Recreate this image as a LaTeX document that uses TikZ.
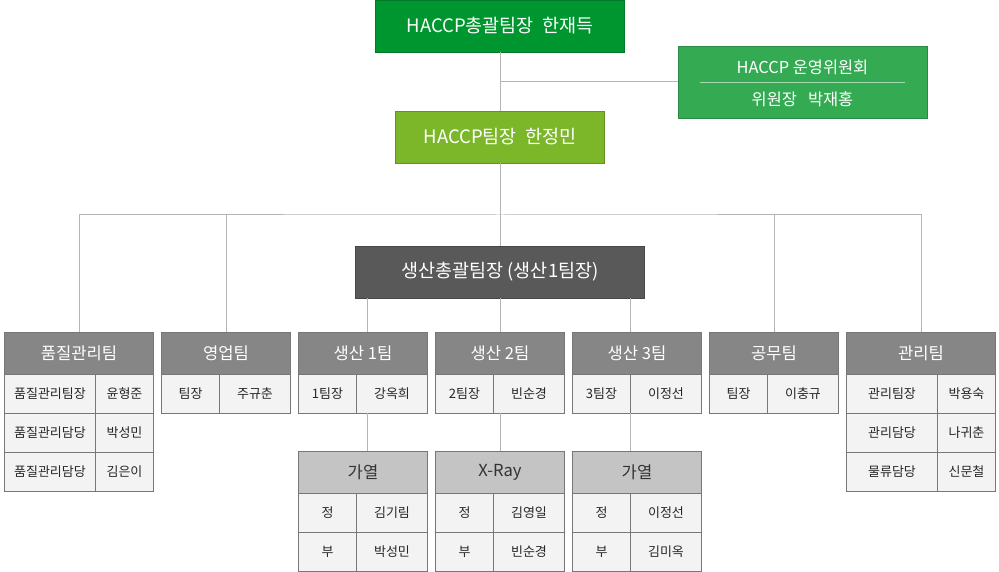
\documentclass[tikz,border=0pt]{standalone}
\usepackage{fontspec}
\setmainfont{Noto Sans CJK KR}
\usetikzlibrary{calc,chains,positioning}
\definecolor{hgreen}{HTML}{00962F}
\definecolor{cgreen}{HTML}{34AB53}
\definecolor{lgreen}{HTML}{7CB72A}
\definecolor{dgrey}{HTML}{595959}
\definecolor{mgrey}{HTML}{868686}
\definecolor{sgrey}{HTML}{C4C4C4}
\definecolor{cellbg}{HTML}{F3F3F3}
\definecolor{edgegrey}{HTML}{777777}
\definecolor{wiregrey}{HTML}{B5B5B5}

\tikzset{
	chief/.style={draw=#1!80!black, fill=#1, text=white, font=\fontsize{18.5}{20}\selectfont, inner sep=0pt, outer sep=0pt},
	team/.style={draw=edgegrey, fill=mgrey, text=white, font=\fontsize{16.6}{18}\selectfont, minimum height=42pt, inner sep=0pt, outer sep=0pt},
	subteam/.style={team, fill=sgrey, text=black!80},
	cell/.style={draw=edgegrey, fill=cellbg, text=black!85, font=\fontsize{13}{15}\selectfont, minimum height=39pt, inner sep=0pt, outer sep=0pt, anchor=north west},
	wire/.style={draw=wiregrey, line width=1pt},
}

\begin{document}
\begin{tikzpicture}[x=1pt,y=-1pt,start chain=going right,node distance=8pt]
	\useasboundingbox (0,0) rectangle (999,572);

	% top of the chart
	\node [chief=hgreen, minimum width=249pt, minimum height=52pt] (hq) at (500,26) {HACCP총괄팀장~~한재득};
	\node [chief=cgreen, minimum width=249pt, minimum height=72pt] (comm) at (802.5,82) {};
	\node [text=white, font=\fontsize{16.4}{18}\selectfont] (commtitle) at ([yshift=15pt]comm.center) {HACCP 운영위원회};
	\node [text=white, font=\fontsize{16.4}{18}\selectfont] (commhead) at ([yshift=-17pt]comm.center) {위원장~~~박재홍};
	\draw [white!55!cgreen, line width=0.8pt] ([xshift=22pt]comm.west) -- ([xshift=-22pt]comm.east);
	\node [chief=lgreen, minimum width=209pt, minimum height=52pt] (mgr) at (500,137) {HACCP팀장~~한정민};
	\node [chief=dgrey, minimum width=289pt, minimum height=52pt] (prod) at (500,272) {생산총괄팀장 (생산1팀장)};

	% teams
	\node [team, on chain, minimum width=149pt, anchor=north west] (qh) at (4.5,332) {품질관리팀};
	\node [team, on chain, minimum width=129pt] (yh) {영업팀};
	\node [team, on chain, minimum width=129pt] (p1h) {생산 1팀};
	\node [team, on chain, minimum width=129pt] (p2h) {생산 2팀};
	\node [team, on chain, minimum width=129pt] (p3h) {생산 3팀};
	\node [team, on chain, minimum width=129pt] (gh) {공무팀};
	\node [team, on chain, minimum width=149pt] (kh) {관리팀};

	\node [cell, minimum width=91pt] (q1a) at (qh.south west) {품질관리팀장};
	\node [cell, minimum width=58pt] (q1b) at (q1a.north east) {윤형준};
	\node [cell, minimum width=91pt] (q2a) at (q1a.south west) {품질관리담당};
	\node [cell, minimum width=58pt] (q2b) at (q2a.north east) {박성민};
	\node [cell, minimum width=91pt] (q3a) at (q2a.south west) {품질관리담당};
	\node [cell, minimum width=58pt] (q3b) at (q3a.north east) {김은이};

	\node [cell, minimum width=58pt] (y1a) at (yh.south west) {팀장};
	\node [cell, minimum width=71pt] (y1b) at (y1a.north east) {주규춘};

	\node [cell, minimum width=58pt] (p1a) at (p1h.south west) {1팀장};
	\node [cell, minimum width=71pt] (p1b) at (p1a.north east) {강옥희};
	\node [cell, minimum width=58pt] (p2a) at (p2h.south west) {2팀장};
	\node [cell, minimum width=71pt] (p2b) at (p2a.north east) {빈순경};
	\node [cell, minimum width=58pt] (p3a) at (p3h.south west) {3팀장};
	\node [cell, minimum width=71pt] (p3b) at (p3a.north east) {이정선};

	\node [cell, minimum width=58pt] (g1a) at (gh.south west) {팀장};
	\node [cell, minimum width=71pt] (g1b) at (g1a.north east) {이충규};

	\node [cell, minimum width=91pt] (k1a) at (kh.south west) {관리팀장};
	\node [cell, minimum width=58pt] (k1b) at (k1a.north east) {박용숙};
	\node [cell, minimum width=91pt] (k2a) at (k1a.south west) {관리담당};
	\node [cell, minimum width=58pt] (k2b) at (k2a.north east) {나귀춘};
	\node [cell, minimum width=91pt] (k3a) at (k2a.south west) {물류담당};
	\node [cell, minimum width=58pt] (k3b) at (k3a.north east) {신문철};

	% lines under the production teams
	\node [subteam, minimum width=129pt, below=38pt of p1a.south west, anchor=north west] (s1h) {가열};
	\node [cell, minimum width=58pt] (s1a) at (s1h.south west) {정};
	\node [cell, minimum width=71pt] (s1b) at (s1a.north east) {김기림};
	\node [cell, minimum width=58pt] (s1c) at (s1a.south west) {부};
	\node [cell, minimum width=71pt] (s1d) at (s1c.north east) {박성민};

	\node [subteam, minimum width=129pt, below=38pt of p2a.south west, anchor=north west] (s2h) {X-Ray};
	\node [cell, minimum width=58pt] (s2a) at (s2h.south west) {정};
	\node [cell, minimum width=71pt] (s2b) at (s2a.north east) {김영일};
	\node [cell, minimum width=58pt] (s2c) at (s2a.south west) {부};
	\node [cell, minimum width=71pt] (s2d) at (s2c.north east) {빈순경};

	\node [subteam, minimum width=129pt, below=38pt of p3a.south west, anchor=north west] (s3h) {가열};
	\node [cell, minimum width=58pt] (s3a) at (s3h.south west) {정};
	\node [cell, minimum width=71pt] (s3b) at (s3a.north east) {이정선};
	\node [cell, minimum width=58pt] (s3c) at (s3a.south west) {부};
	\node [cell, minimum width=71pt] (s3d) at (s3c.north east) {김미옥};

	% connectors
	\coordinate (bus) at (500,215);
	\coordinate (p1x) at ([xshift=12pt]prod.south west);
	\coordinate (p3x) at ([xshift=-14pt]prod.south east);
	\draw [wire] (hq) -- (mgr);
	\draw [wire] (hq |- comm) -- (comm);
	\draw [wire] (mgr) -- (prod);
	\draw [wire] (qh.north) |- (bus) -| (kh.north);
	\draw [wire] (yh.north) -- (yh |- bus);
	\draw [wire] (gh.north) -- (gh |- bus);
	\draw [wire] (p1x) -- (p1x |- p1h.north);
	\draw [wire] (prod.south) -- (prod.south |- p2h.north);
	\draw [wire] (p3x) -- (p3x |- p3h.north);
	\draw [wire] (p1x |- p1a.south) -- (p1x |- s1h.north);
	\draw [wire] (prod.south |- p2a.south) -- (prod.south |- s2h.north);
	\draw [wire] (p3x |- p3a.south) -- (p3x |- s3h.north);
\end{tikzpicture}
\end{document}
